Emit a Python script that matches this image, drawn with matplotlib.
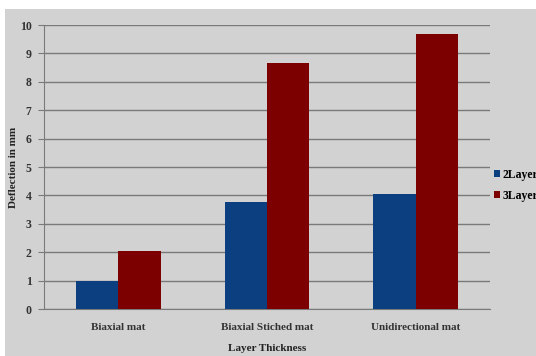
import matplotlib
matplotlib.use("Agg")
import matplotlib.pyplot as plt
from matplotlib.patches import Rectangle
import numpy as np

categories = ["Biaxial mat", "Biaxial Stiched mat", "Unidirectional mat"]
series_names = ["2Layer", "3Layer"]
layer2 = [1.0, 3.78, 4.05]
layer3 = [2.05, 8.66, 9.68]
y_ticks = list(range(0, 11))

bg = "#d2d2d2"
blue = "#0b3f80"
red = "#7d0000"
font = ["Liberation Serif", "DejaVu Serif"]

fig = plt.figure(figsize=(5.36, 3.56), dpi=100, facecolor="white")
fig.patches.append(Rectangle((5 / 536, 0), 1, 1 - 9 / 356, transform=fig.transFigure,
                             facecolor=bg, edgecolor="none", zorder=-10))

ax = fig.add_axes([44 / 536, 47 / 356, 446 / 536, 284 / 356])
ax.set_facecolor(bg)

x = np.arange(len(categories))
w = 0.285
ax.bar(x - w / 2, layer2, w, color=blue, label=series_names[0], zorder=3)
ax.bar(x + w / 2, layer3, w, color=red, label=series_names[1], zorder=3)

ax.set_xlim(-0.5, len(categories) - 0.5)
ax.set_ylim(0, 10)
ax.set_yticks(y_ticks)
ax.grid(axis="y", color="#7a7a7a", linewidth=1.0, zorder=1)
ax.set_axisbelow(True)

for s in ["top", "right"]:
    ax.spines[s].set_visible(False)
ax.spines["left"].set_color("#7a7a7a")
ax.spines["bottom"].set_color("#7a7a7a")
ax.tick_params(axis="y", length=4, color="#7a7a7a", pad=5)
ax.tick_params(axis="x", length=0, pad=10)

ax.set_xticks(x)
ax.set_xticklabels(categories, fontfamily=font, fontweight="bold", fontsize=8, color="#333333")
for lab in ax.get_yticklabels():
    lab.set_fontfamily(font)
    lab.set_fontweight("bold")
    lab.set_fontsize(8.5)
    lab.set_color("#333333")

ax.set_xlabel("Layer Thickness", fontfamily=font, fontweight="bold", fontsize=8,
              color="#222222", labelpad=9)
ax.set_ylabel("Deflection in mm", fontfamily=font, fontweight="bold", fontsize=8,
              color="#222222", labelpad=1)

leg = ax.legend(loc="center left", bbox_to_anchor=(0.99, 0.435), frameon=False,
                handlelength=0.55, handleheight=0.55, handletextpad=0.2,
                labelspacing=0.75, borderaxespad=0.3,
                prop={"family": font, "weight": "bold", "size": 8.5})

fig.savefig("out.png", dpi=100, facecolor="white")
